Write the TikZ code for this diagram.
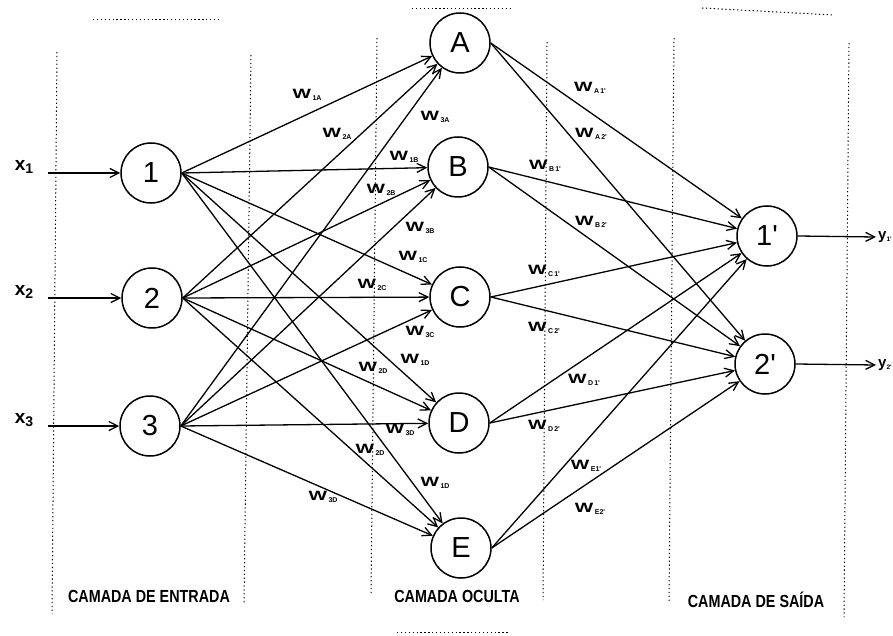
\documentclass[tikz,border=0pt]{standalone}
\usepackage{fontspec}
\setmainfont{Liberation Sans}
\usetikzlibrary{arrows.meta}
\newcommand{\pr}{\textquotesingle}
\newcommand{\wt}[1]{\scalebox{1.45}[1]{\fontsize{13.5}{13.5}\selectfont\bfseries W}\hspace{1.5pt}\raisebox{-1.8pt}{\fontsize{7}{7}\selectfont\bfseries #1}}
\newcommand{\inlab}[1]{{\fontsize{19}{19}\selectfont\bfseries x}\raisebox{-3.5pt}{\fontsize{14}{14}\selectfont\bfseries #1}}
\newcommand{\outlab}[1]{{\fontsize{15}{15}\selectfont\bfseries y}\raisebox{-2.5pt}{\fontsize{6.5}{6.5}\selectfont\bfseries #1}}
\newcommand{\laylab}[1]{\scalebox{0.82}[1]{\fontsize{17.5}{17.5}\selectfont\bfseries #1}}
\begin{document}
\begin{tikzpicture}[x=1pt,y=-1pt,
  neuron/.style={circle,draw,line width=1.5pt,minimum size=60pt,inner sep=0pt,font=\fontsize{29}{29}\selectfont},
  conn/.style={line width=1.3pt,-{Straight Barb[length=9pt,width=9pt,line width=1.3pt]}},
  sepline/.style={line width=1pt,dash pattern=on 1.3pt off 2.6pt,black},
  wlab/.style={inner sep=0pt},
  txt/.style={inner sep=0pt}]
\useasboundingbox (0,0) rectangle (893,636);

% separators
\draw[sepline] (57,52) -- (52,614);
\draw[sepline] (251,55) -- (244,603);
\draw[sepline] (377,38) -- (371,595);
\draw[sepline] (547,42) -- (543,600);
\draw[sepline] (674,38) -- (669,602);
\draw[sepline] (849,43) -- (844,617);
\draw[sepline] (93,20) -- (220,20);
\draw[sepline] (412,9) -- (510,9);
\draw[sepline] (702,8) -- (833,15);
\draw[sepline] (397,632) -- (510,632);

% neurons
\node[neuron] (i1) at (151,173) {1};
\node[neuron] (i2) at (152,298) {2};
\node[neuron] (i3) at (150,426) {3};
\node[neuron] (hA) at (460,43) {A};
\node[neuron] (hB) at (458,167) {B};
\node[neuron] (hC) at (460,297) {C};
\node[neuron] (hD) at (459,423) {D};
\node[neuron] (hE) at (461,548) {E};
\node[neuron] (o1) at (767,236) {1\pr};
\node[neuron] (o2) at (765,364) {2\pr};

% inputs / outputs
\coordinate (xs1) at (48,173);
\coordinate (xs2) at (48,298);
\coordinate (xs3) at (48,426);
\coordinate (ye1) at (876,237);
\coordinate (ye2) at (876,365);
\node[txt] (xl1) at (24,167) {\inlab{1}};
\node[txt] (xl2) at (24,292) {\inlab{2}};
\node[txt] (xl3) at (24,420) {\inlab{3}};
\node[txt,anchor=west] (yl1) at (878,237) {\outlab{1\pr}};
\node[txt,anchor=west] (yl2) at (878,365) {\outlab{2\pr}};
\draw[conn] (xs1) -- (i1);
\draw[conn] (xs2) -- (i2);
\draw[conn] (xs3) -- (i3);
\draw[conn] (o1.east) -- (ye1);
\draw[conn] (o2.east) -- (ye2);

% connections
\foreach \s in {i1,i2,i3}
  \foreach \t in {hA,hB,hC,hD,hE}
    \draw[conn] (\s.east) -- (\t);
\foreach \s in {hA,hB,hC,hD,hE}
  \foreach \t in {o1,o2}
    \draw[conn] (\s.east) -- (\t);

% weight labels
\node[wlab] (w1A) at (307,95) {\wt{1A}};
\node[wlab] (w2A) at (337,134) {\wt{2A}};
\node[wlab] (w3A) at (435,117) {\wt{3A}};
\node[wlab] (w1B) at (404,157) {\wt{1B}};
\node[wlab] (w2B) at (381,190) {\wt{2B}};
\node[wlab] (w3B) at (420,228) {\wt{3B}};
\node[wlab] (w1C) at (413,257) {\wt{1C}};
\node[wlab] (w2C) at (372,285) {\wt{2C}};
\node[wlab] (w3C) at (420,332) {\wt{3C}};
\node[wlab] (w1D) at (415,360) {\wt{1D}};
\node[wlab] (w2D) at (373,368) {\wt{2D}};
\node[wlab] (w3D) at (400,430) {\wt{3D}};
\node[wlab] (w2Db) at (370,450) {\wt{2D}};
\node[wlab] (w1Db) at (435,483) {\wt{1D}};
\node[wlab] (w3Db) at (323,497) {\wt{3D}};
\node[wlab] (wA1) at (590,88) {\wt{A\,1\pr}};
\node[wlab] (wA2) at (591,134) {\wt{A\,2\pr}};
\node[wlab] (wB1) at (545,166) {\wt{B\,1\pr}};
\node[wlab] (wB2) at (591,222) {\wt{B\,2\pr}};
\node[wlab] (wC1) at (544,271) {\wt{C\,1\pr}};
\node[wlab] (wC2) at (544,328) {\wt{C\,2\pr}};
\node[wlab] (wD1) at (584,380) {\wt{D\,1\pr}};
\node[wlab] (wD2) at (544,426) {\wt{D\,2\pr}};
\node[wlab] (wE1) at (586,466) {\wt{E1\pr}};
\node[wlab] (wE2) at (590,509) {\wt{E2\pr}};

% layer labels
\node[txt] (l1) at (149,596) {\laylab{CAMADA DE ENTRADA}};
\node[txt] (l2) at (457,596) {\laylab{CAMADA OCULTA}};
\node[txt] (l3) at (756,600) {\laylab{CAMADA DE SAÍDA}};
\end{tikzpicture}
\end{document}
